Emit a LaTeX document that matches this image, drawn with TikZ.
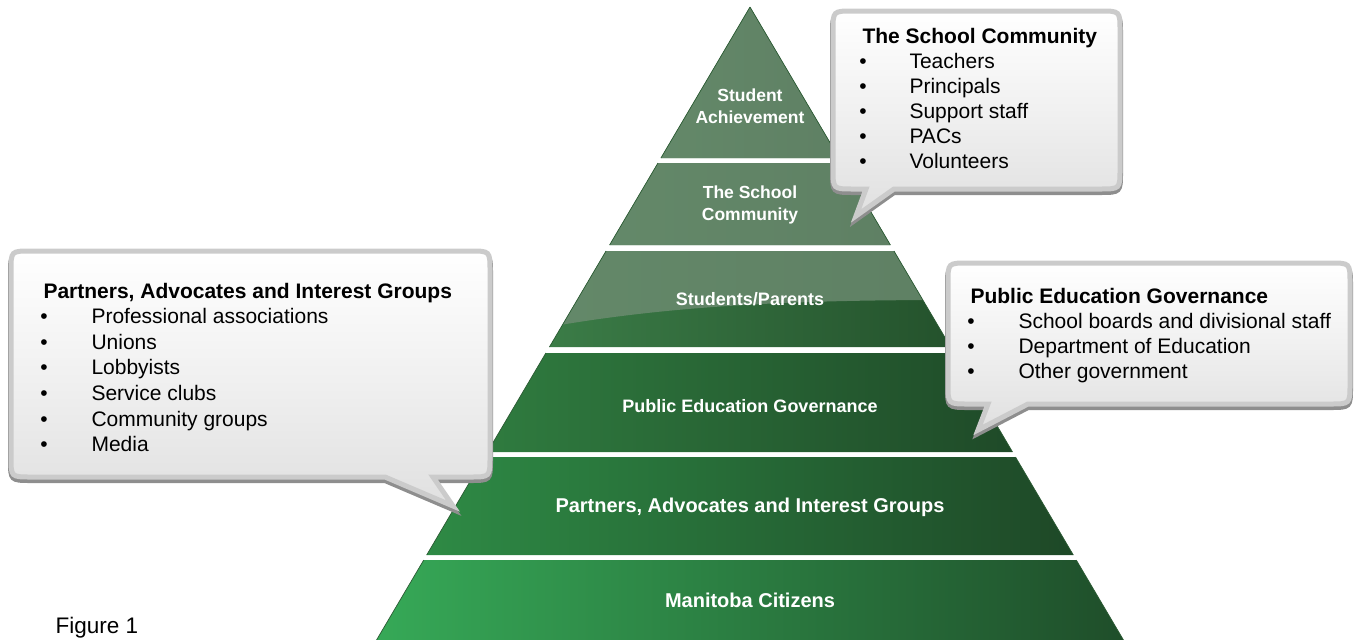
\documentclass[tikz,border=0pt]{standalone}
\usepackage{fontspec}
\setmainfont{Liberation Sans}
\definecolor{pyredge}{HTML}{2B5A33}
\definecolor{topl}{HTML}{3B7C47}
\definecolor{topr}{HTML}{24522C}
\definecolor{govl}{HTML}{2F7B3F}
\definecolor{govr}{HTML}{1F4A28}
\definecolor{partl}{HTML}{2E8A45}
\definecolor{partr}{HTML}{1E4827}
\definecolor{citl}{HTML}{36A957}
\definecolor{citr}{HTML}{1F4E2A}
\definecolor{glosscol}{HTML}{6E8C72}
\definecolor{bubbleborder}{HTML}{CBCBCB}
\definecolor{bubbleshade}{HTML}{8E8E8E}
\definecolor{bubblemid}{HTML}{F0F0F0}
\definecolor{bubblelow}{HTML}{E0E0E0}
\begin{document}
\begin{tikzpicture}[x=1pt, y=-1pt,
  tier/.style={draw=pyredge, line width=0.7pt},
  gloss/.style={fill=glosscol, fill opacity=0.8},
  tierlabel/.style={font=\fontsize{#1}{21.5}\selectfont\bfseries, text=white, align=center},
  bubble/.style={line width=5pt, draw=bubbleborder, top color=white, bottom color=bubblelow, middle color=bubblemid},
  bubbleshadow/.style={line width=6pt, draw=bubbleshade, fill=bubbleshade},
  bubblepath/.style n args={8}{insert path={(#1+20,#2) -- (#3-20,#2) .. controls (#3,#2) .. (#3,#2+20)
      -- (#3,#4-20) .. controls (#3,#4) .. (#3-20,#4) -- (#6,#4) -- (#7,#8) -- (#5,#4)
      -- (#1+20,#4) .. controls (#1,#4) .. (#1,#4-20) -- (#1,#2+20) .. controls (#1,#2) .. (#1+20,#2) -- cycle}},
  head/.style={anchor=base west, font=\fontsize{21}{25}\selectfont\bfseries},
  item/.style={anchor=base west, font=\fontsize{21}{25}\selectfont},
  dot/.style={anchor=base, font=\fontsize{21}{25}\selectfont},
]
  \useasboundingbox (0,0) rectangle (1358,640);

  % Pyramid tiers, top to bottom
  \foreach \ya/\yb/\lc/\rc/\ym/\fs/\lbl [count=\k] in {
      7/158/topl/topr/106/17.5/{Student\\Achievement},
      163/245/topl/topr/205/17.5/{The School\\Community},
      251/347/topl/topr/299/18/{Students/Parents},
      353/452/govl/govr/406/18/{Public Education Governance},
      457/555/partl/partr/507/20/{Partners, Advocates and Interest Groups},
      560/640/citl/citr/600/20/{Manitoba Citizens}} {
    \pgfmathsetmacro\wa{0.59*(\ya-7)}
    \pgfmathsetmacro\wb{0.59*(\yb-7)}
    \coordinate (tl) at ({750-\wa},\ya);
    \coordinate (tr) at ({750+\wa},\ya);
    \coordinate (br) at ({750+\wb},\yb);
    \coordinate (bl) at ({750-\wb},\yb);
    \shade[left color=\lc, right color=\rc] (tl) -- (tr) -- (br) -- (bl) -- cycle;
    \begin{scope}
      \clip (tl) -- (tr) -- (br) -- (bl) -- cycle;
      \fill[gloss] (560,0) -- (950,0) -- (950,300) .. controls (800,300) and (680,305) .. (560,325) -- cycle;
    \end{scope}
    \draw[tier] (tl) -- (bl) (tr) -- (br);
    \node[tierlabel=\fs] (tier\k) at (750,\ym) {\lbl};
  }

  % School community callout
  \path[bubbleshadow, shift={(0,3)}] [bubblepath={833}{11}{1120}{189}{866}{894}{856}{216}];
  \path[bubble] [bubblepath={833}{11}{1120}{189}{866}{894}{856}{216}];
  \node[head] (schoolhead) at (859,43) {The School Community};
  \foreach \txt [count=\n] in {Teachers, Principals, Support staff, PACs, Volunteers} {
    \node[dot] (schooldot\n) at (863,43+25*\n) {•};
    \node[item] (schoolitem\n) at (906,43+25*\n) {\txt};
  }

  % Partners callout
  \path[bubbleshadow, shift={(0,3)}] [bubblepath={11}{251}{490}{477}{385}{433}{453}{506}];
  \path[bubble] [bubblepath={11}{251}{490}{477}{385}{433}{453}{506}];
  \node[head] (parthead) at (40,298) {Partners, Advocates and Interest Groups};
  \foreach \txt [count=\n] in {Professional associations, Unions, Lobbyists, Service clubs, Community groups, Media} {
    \node[dot] (partdot\n) at (44,298+25.6*\n) {•};
    \node[item] (partitem\n) at (88,298+25.6*\n) {\txt};
  }

  % Governance callout
  \path[bubbleshadow, shift={(0,3)}] [bubblepath={948}{263}{1350}{404}{988}{1028}{978}{430}];
  \path[bubble] [bubblepath={948}{263}{1350}{404}{988}{1028}{978}{430}];
  \node[head] (govhead) at (967,303) {Public Education Governance};
  \foreach \txt [count=\n] in {School boards and divisional staff, Department of Education, Other government} {
    \node[dot] (govdot\n) at (971,303+25*\n) {•};
    \node[item] (govitem\n) at (1015,303+25*\n) {\txt};
  }

  \node[anchor=base west, font=\fontsize{22.5}{27}\selectfont] (figlabel) at (52,633) {Figure 1};
\end{tikzpicture}
\end{document}
